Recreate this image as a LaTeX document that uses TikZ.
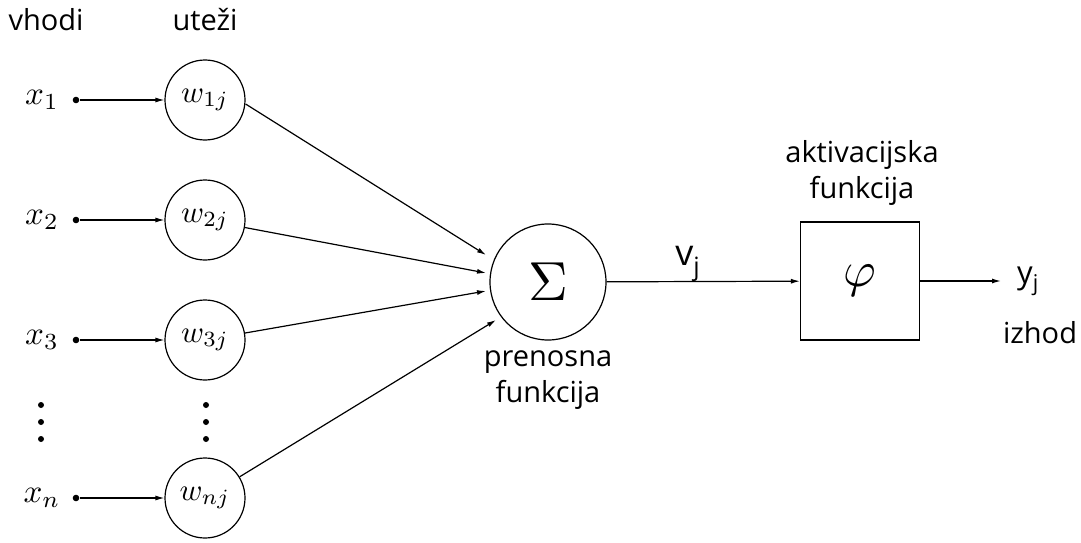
\documentclass[tikz,border=0pt]{standalone}
\usepackage{amsmath,amssymb}
\usepackage{fontspec}
\setmainfont{Open Sans}
\usetikzlibrary{
		arrows.meta,
		positioning
	}
\tikzset{
		>={Latex[length=9pt,width=5pt]},
		utez/.style={draw, circle, minimum size=80pt, inner sep=0pt, line width=1.2pt},
		vhod/.style={scale=3.3},
		napis/.style={font=\fontsize{29}{36}\selectfont, align=center},
		pika/.style={circle, fill, inner sep=0pt, minimum size=6pt}
	}

\begin{document}
\begin{tikzpicture}[x=1pt, y=-1pt, line width=1.2pt]
          \useasboundingbox (0,0) rectangle (1081,543);

          % naslova stolpcev
          \node[napis] (vhodi) at (46,20) {vhodi};
          \node[napis] (utezi) at (205,20) {uteži};

          % vhodi in uteži
          \foreach \i/\y/\s in {1/100/1, 2/220/2, 3/340/3, n/498/n}{
            \node[vhod] (x\i) at (42,\y) {$x_{\s}$};
            \node[pika, scale=1.1] (p\i) at (76,\y) {};
            \node[utez] (w\i) at (205,\y) {};
            \node[scale=3.1] (wt\i) at (w\i) {$w_{\s j}$};
            \draw[->] (p\i) -- (w\i);
          }

          % tri pike
          \foreach \xx/\ime in {41/a, 206/b}{
            \foreach \yy/\k in {405/1, 422/2, 439/3}
              \node[pika] (d\ime\k) at (\xx,\yy) {};
          }

          % prenosna funkcija
          \node[draw, circle, minimum size=116pt, inner sep=0pt] (vsota) at (548,282) {};
          \node[scale=5.5] (sigma) at (vsota) {$\Sigma$};
          \node[napis] (prenosna) at (548,380) {prenosna\\funkcija};

          \coordinate (k1) at (486,255);
          \coordinate (k2) at (486,273);
          \coordinate (k3) at (486,291);
          \coordinate (kn) at (496,320);
          \draw[->] (w1.east) ++(0,4) -- (k1);
          \draw[->] (w2) -- (k2);
          \draw[->] (w3) -- (k3);
          \draw[->] (wn) -- (kn);

          % aktivacijska funkcija
          \node[draw, minimum width=119pt, minimum height=118pt, inner sep=0pt] (fi) at (860,281) {};
          \node[scale=5] (fit) at (fi) {$\varphi$};
          \node[napis] (aktivacijska) at (862,173) {aktivacijska\\funkcija};
          \draw[->] (vsota) -- (fi) node[pos=0.42, above=-4pt, font=\fontsize{36}{36}\selectfont] (v) {v\textsubscript{j}};

          % izhod
          \coordinate (izhod) at (1001,281);
          \draw[->] (fi) -- (izhod);
          \node[font=\fontsize{31}{31}\selectfont] (y) at (1028,281) {y\textsubscript{j}};
          \node[napis] (izhodnapis) at (1040,333) {izhod};

          \end{tikzpicture}
\end{document}
